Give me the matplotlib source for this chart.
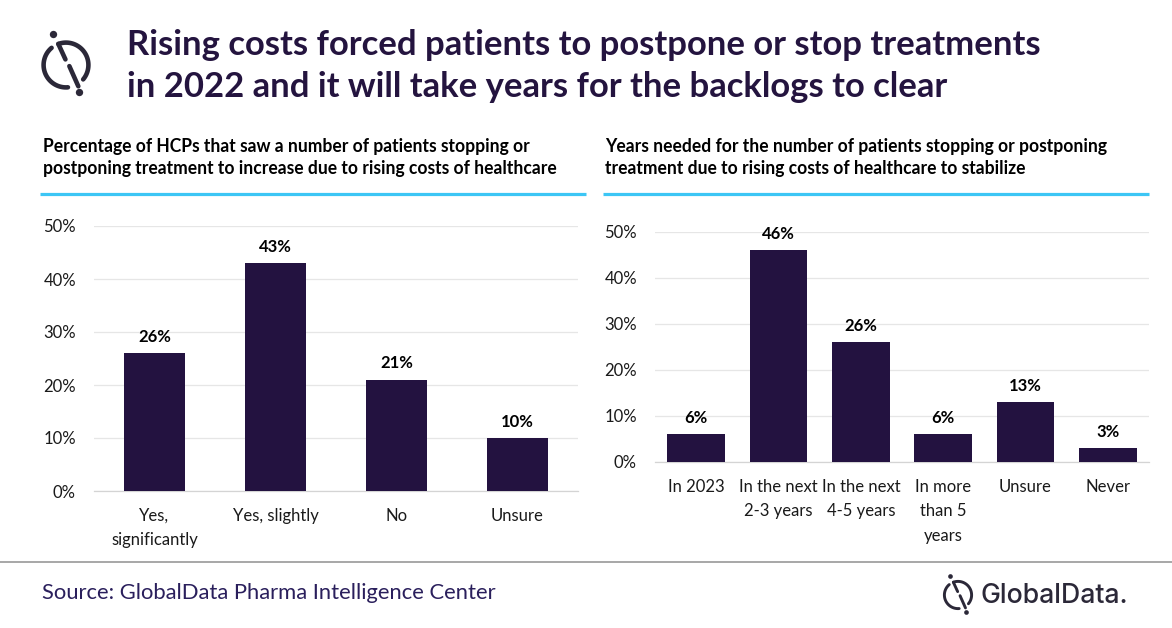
import numpy as np
import matplotlib
matplotlib.use("Agg")
import matplotlib.pyplot as plt

# data
left_categories = ["Yes,\nsignificantly", "Yes, slightly", "No", "Unsure"]
left_values = [26, 43, 21, 10]
right_categories = ["In 2023", "In the next\n2-3 years", "In the next\n4-5 years",
                    "In more\nthan 5\nyears", "Unsure", "Never"]
right_values = [6, 46, 26, 6, 13, 3]
y_ticks = [0, 10, 20, 30, 40, 50]

title_lines = ["Rising costs forced patients to postpone or stop treatments",
               "in 2022 and it will take years for the backlogs to clear"]
left_subtitle = ["Percentage of HCPs that saw a number of patients stopping or",
                 "postponing treatment to increase due to rising costs of healthcare"]
right_subtitle = ["Years needed for the number of patients stopping or postponing",
                  "treatment due to rising costs of healthcare to stabilize"]
source_text = "Source: GlobalData Pharma Intelligence Center"

BAR = "#231240"
TITLE = "#24143f"
BLUE = "#3cc6f5"
GRID = "#e6e6e6"
FONT = "Lato"

W, H = 1172, 628
fig = plt.figure(figsize=(W / 100, H / 100), dpi=100)
fig.patch.set_facecolor("white")

# overlay in pixel coordinates for decorations
ov = fig.add_axes([0, 0, 1, 1])
ov.set_xlim(0, W)
ov.set_ylim(H, 0)
ov.axis("off")

renderer = fig.canvas.get_renderer()


def fit_width(t, target):
    bb = t.get_window_extent(renderer)
    t.set_fontsize(t.get_fontsize() * target / bb.width)
    return t.get_fontsize()


def px_axes(x0, x1, y_top, y_bottom):
    return fig.add_axes([x0 / W, (H - y_bottom) / H, (x1 - x0) / W, (y_bottom - y_top) / H])


def draw_logo(cx, cy, s, lw):
    r = 20 * s

    def arc(a0, a1):
        t = np.radians(np.linspace(a0, a1, 60))
        ov.plot(cx + r * np.cos(t), cy - r * np.sin(t), color="#2b2838",
                lw=lw, solid_capstyle="round")

    arc(130, 275)
    arc(-40, 110)
    p_top = (cx + r * np.cos(np.radians(110)), cy - r * np.sin(np.radians(110)))
    ov.plot([p_top[0], cx - 0.5 * s], [p_top[1], cy - 5 * s], color="#2b2838",
            lw=lw, solid_capstyle="round")
    ov.plot([cx + 3 * s, cx + 11 * s], [cy + 1 * s, cy + 19 * s], color="#2b2838",
            lw=lw, solid_capstyle="round")
    ov.plot([cx - 12 * s, cx + 12 * s], [cy - 27.5 * s, cy + 24.5 * s], "o",
            color="#2b2838", ms=lw * 1.6, mew=0)


# header
t1 = ov.text(127, 55, title_lines[0], fontsize=22, fontweight="bold", color=TITLE,
             family=FONT, va="baseline", ha="left")
fs = fit_width(t1, 913)
ov.text(127, 97, title_lines[1], fontsize=fs, fontweight="bold", color=TITLE,
        family=FONT, va="baseline", ha="left")
draw_logo(66, 65, 1.12, 3.3)

# subtitles
s1 = ov.text(43, 174, left_subtitle[1], fontsize=11, fontweight="bold", color="black",
             family=FONT, va="baseline")
sfs = fit_width(s1, 512)
ov.text(43, 152, left_subtitle[0], fontsize=sfs, fontweight="bold", color="black",
        family=FONT, va="baseline")
ov.text(605, 152, right_subtitle[0], fontsize=sfs, fontweight="bold", color="black",
        family=FONT, va="baseline")
ov.text(605, 174, right_subtitle[1], fontsize=sfs, fontweight="bold", color="black",
        family=FONT, va="baseline")
ov.plot([40, 586], [193.5, 193.5], color=BLUE, lw=2.3, solid_capstyle="butt")
ov.plot([603, 1149], [193.5, 193.5], color=BLUE, lw=2.3, solid_capstyle="butt")

# footer
ov.plot([0, W], [562, 562], color="#8f8f8f", lw=1.1)
src = ov.text(42, 593, source_text, fontsize=14, color="#2a1f5c", family=FONT,
              va="center")
fit_width(src, 456)
draw_logo(958, 595, 0.68, 2.1)
gd = ov.text(980, 603, "GlobalData.", fontsize=18, color="#2b2838", family="Inter",
             fontweight="medium", va="baseline")
fit_width(gd, 147)


def bar_panel(ax, cats, vals, width):
    x = np.arange(len(cats))
    ax.bar(x, vals, width=width, color=BAR, zorder=3)
    for xi, v in zip(x, vals):
        ax.annotate(f"{v}%", (xi, v), xytext=(0, 6), textcoords="offset points",
                    ha="center", va="bottom", fontsize=12, fontweight="bold",
                    family=FONT, color="black")
    ax.set_xlim(-0.5, len(cats) - 0.5)
    ax.set_ylim(0, 50)
    ax.set_yticks(y_ticks)
    ax.set_yticklabels([f"{v}%" for v in y_ticks])
    ax.set_xticks(x)
    ax.set_xticklabels(cats, linespacing=1.65)
    ax.grid(axis="y", color=GRID, lw=0.9, zorder=0)
    ax.set_axisbelow(True)
    for sp in ["top", "right", "left"]:
        ax.spines[sp].set_visible(False)
    ax.spines["bottom"].set_color("#d4d4d4")
    ax.spines["bottom"].set_linewidth(0.9)
    ax.tick_params(axis="both", length=0, labelsize=12, labelcolor="#1a1a1a")
    ax.tick_params(axis="x", pad=12)
    ax.tick_params(axis="y", pad=13)
    for lab in ax.get_xticklabels() + ax.get_yticklabels():
        lab.set_family(FONT)
    ax.patch.set_alpha(0)


ax_l = px_axes(94, 578, 226, 491)
bar_panel(ax_l, left_categories, left_values, 0.5)
ax_r = px_axes(655, 1149, 232, 462)
bar_panel(ax_r, right_categories, right_values, 0.7)

fig.savefig("out.png", dpi=100, facecolor="white")
